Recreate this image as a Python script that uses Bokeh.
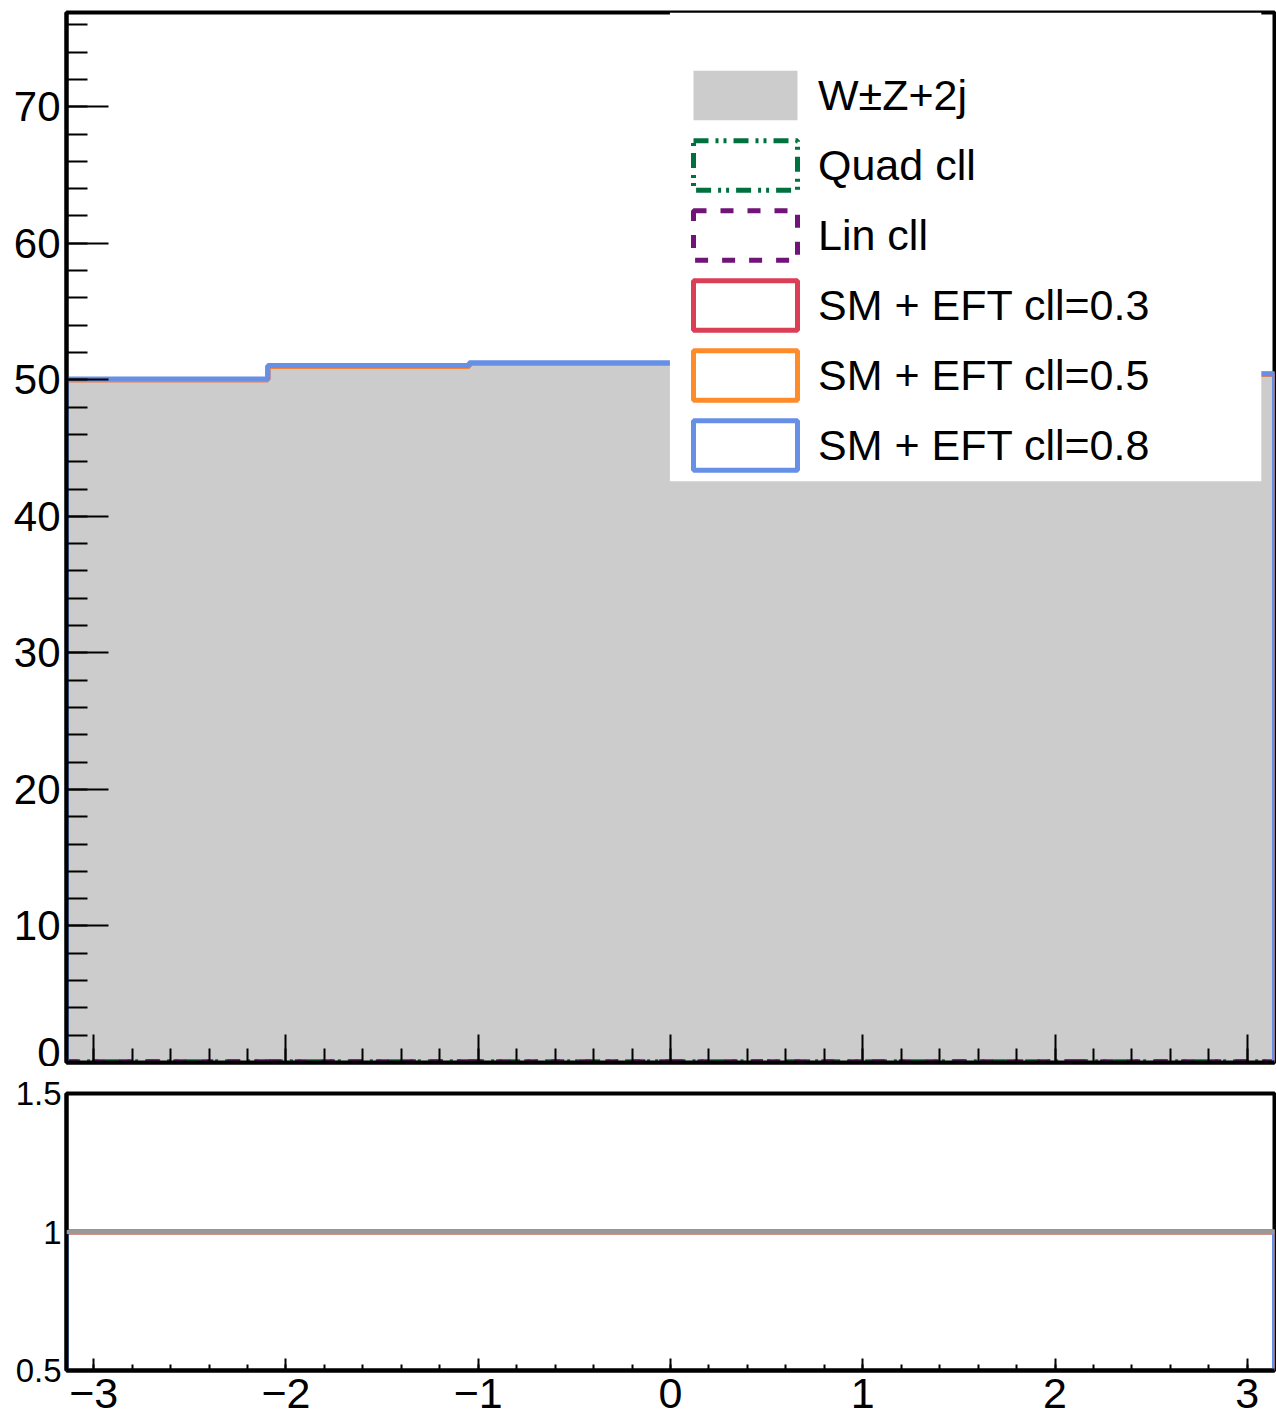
import numpy as np
from bokeh.plotting import figure
from bokeh.layouts import column
from bokeh.models import (Range1d, SingleIntervalTicker, FixedTicker, Legend, LegendItem,
                          BoxAnnotation, Span, CustomLabelingPolicy)
from bokeh.embed import file_html
from bokeh.resources import INLINE

# ---- data ----
bin_edges = [-3.1416, -2.0944, -1.0472, 0.0, 1.0472, 2.0944, 3.1416]
sm_wz2j = [50.0, 51.0, 51.2, 51.2, 51.0, 50.4]
quad_cll = [0.10, 0.10, 0.10, 0.10, 0.10, 0.10]
lin_cll = [0.09, 0.09, 0.09, 0.09, 0.09, 0.09]
sm_eft_03 = [50.0, 51.0, 51.2, 51.2, 51.0, 50.4]
sm_eft_05 = [50.0, 51.0, 51.2, 51.2, 51.0, 50.4]
sm_eft_08 = [50.05, 51.05, 51.25, 51.25, 51.05, 50.45]

legend_labels = ["W±Z+2j", "Quad cll", "Lin cll", "SM + EFT cll=0.3",
                 "SM + EFT cll=0.5", "SM + EFT cll=0.8"]
x_tick_labels = {-3: "\u22123", -2: "\u22122", -1: "\u22121", 0: "0", 1: "1", 2: "2", 3: "3"}
ratio_tick_labels = {0.5: "0.5", 1: "1", 1.5: "1.5"}

FONT = "Liberation Sans"
C_GRAY = "#cccccc"
C_GREEN = "#00703f"
C_PURPLE = "#701478"
C_RED = "#dc3f55"
C_ORANGE = "#ff8c28"
C_BLUE = "#6690e6"
DASH_QUAD = "15 7 3 5 3 7"
DASH_LIN = "13 14"


def outline(vals, base):
    xs = [bin_edges[0]]
    ys = [base]
    for i, v in enumerate(vals):
        xs += [bin_edges[i], bin_edges[i + 1]]
        ys += [v, v]
    xs.append(bin_edges[-1])
    ys.append(base)
    return xs, ys


def style_axes(p):
    for ax in (p.xaxis + p.yaxis):
        ax.axis_line_width = 4
        ax.axis_line_color = "black"
        ax.major_tick_line_width = 2
        ax.minor_tick_line_width = 2
        ax.major_tick_line_color = "black"
        ax.minor_tick_line_color = "black"
        ax.major_tick_out = 0
        ax.minor_tick_out = 0


x_range = Range1d(bin_edges[0], bin_edges[-1])

# ---------------- top panel ----------------
p1 = figure(width=1276, height=1066, x_range=x_range, y_range=Range1d(0, 76.9),
            output_backend="svg", toolbar_location=None,
            min_border_left=66, min_border_right=2, min_border_top=12, min_border_bottom=4)
p1.grid.visible = False
p1.outline_line_color = "black"
p1.outline_line_width = 4
p1.background_fill_color = "white"
p1.border_fill_color = "white"

xs_sm, ys_sm = outline(sm_wz2j, 0)
sm_r = p1.patch(xs_sm, ys_sm, fill_color=C_GRAY, line_alpha=0)

xq, yq = outline(quad_cll, 0)
p1.line(xq, yq, line_color=C_GREEN, line_width=4, line_dash=DASH_QUAD)
xl, yl = outline(lin_cll, 0)
p1.line(xl, yl, line_color=C_PURPLE, line_width=4, line_dash=DASH_LIN)
for vals, col in [(sm_eft_03, C_RED), (sm_eft_05, C_ORANGE), (sm_eft_08, C_BLUE)]:
    xs, ys = outline(vals, 0)
    p1.line(xs, ys, line_color=col, line_width=5)


# legend proxies (drawn as outlined boxes like ROOT); NaN data -> nothing in the plot
def proxy(color, dash):
    return p1.quad(left=[np.nan], right=[np.nan], top=[np.nan], bottom=[np.nan],
                   fill_alpha=0, line_color=color, line_width=5, line_dash=dash)


r_quad = proxy(C_GREEN, DASH_QUAD)
r_lin = proxy(C_PURPLE, DASH_LIN)
r_03 = proxy(C_RED, "solid")
r_05 = proxy(C_ORANGE, "solid")
r_08 = proxy(C_BLUE, "solid")

for ax in p1.yaxis:
    ax.ticker = SingleIntervalTicker(interval=10, num_minor_ticks=5)
for ax in p1.xaxis:
    ax.ticker = SingleIntervalTicker(interval=1, num_minor_ticks=5)

style_axes(p1)
p1.yaxis.major_tick_in = 42
p1.yaxis.minor_tick_in = 21
p1.yaxis.major_label_text_font = FONT
p1.yaxis.major_label_text_font_size = "42px"
p1.yaxis.major_label_text_color = "black"
p1.yaxis.major_label_standoff = 6

p1.xaxis.major_tick_in = 28
p1.xaxis.minor_tick_in = 14
p1.xaxis.major_label_standoff = 0
p1.xaxis.major_label_text_font_size = "1px"
p1.xaxis.major_label_policy = CustomLabelingPolicy(
    code="for (const i of indices) indices.unset(i)")

legend_bg = BoxAnnotation(left=-0.003, right=3.073, bottom=42.57, top=None,
                          fill_color="white", fill_alpha=1.0, line_alpha=0)
p1.add_layout(legend_bg)

items = [LegendItem(label=legend_labels[0], renderers=[sm_r]),
         LegendItem(label=legend_labels[1], renderers=[r_quad]),
         LegendItem(label=legend_labels[2], renderers=[r_lin]),
         LegendItem(label=legend_labels[3], renderers=[r_03]),
         LegendItem(label=legend_labels[4], renderers=[r_05]),
         LegendItem(label=legend_labels[5], renderers=[r_08])]
legend = Legend(items=items, location=(614, 586), margin=0, padding=0,
                glyph_width=130, glyph_height=62, label_height=50, spacing=8,
                label_standoff=8, label_text_font=FONT, label_text_font_size="43px",
                label_text_color="black", background_fill_alpha=0, border_line_alpha=0)
p1.add_layout(legend)

# ---------------- ratio panel ----------------
p2 = figure(width=1276, height=350, x_range=x_range, y_range=Range1d(0.5, 1.5),
            output_backend="svg", toolbar_location=None,
            min_border_left=66, min_border_right=2, min_border_top=27, min_border_bottom=46)
p2.grid.visible = False
p2.outline_line_color = "black"
p2.outline_line_width = 4
p2.background_fill_color = "white"
p2.border_fill_color = "white"

sm_arr = np.array(sm_wz2j)
for vals, col in [(sm_eft_03, C_RED), (sm_eft_05, C_ORANGE), (sm_eft_08, C_BLUE)]:
    ratio = list(np.array(vals) / sm_arr)
    xs, ys = outline(ratio, 0)
    p2.line(xs, ys, line_color=col, line_width=5)

p2.add_layout(Span(location=1, dimension="width", line_color="#999999", line_width=4))

for ax in p2.yaxis:
    ax.ticker = FixedTicker(ticks=[0.5, 1, 1.5])
for ax in p2.xaxis:
    ax.ticker = SingleIntervalTicker(interval=1, num_minor_ticks=5)

style_axes(p2)
p2.yaxis.major_tick_in = 0
p2.yaxis.minor_tick_in = 0
p2.yaxis.major_label_overrides = ratio_tick_labels
p2.yaxis.major_label_text_font = FONT
p2.yaxis.major_label_text_font_size = "33px"
p2.yaxis.major_label_text_color = "black"
p2.yaxis.major_label_standoff = 5

p2.xaxis.major_tick_in = 12
p2.xaxis.minor_tick_in = 6
p2.xaxis.major_label_overrides = x_tick_labels
p2.xaxis.major_label_text_font = FONT
p2.xaxis.major_label_text_font_size = "43px"
p2.xaxis.major_label_text_line_height = 0.7
p2.xaxis.major_label_text_color = "black"
p2.xaxis.major_label_standoff = 8

layout = column(p1, p2, spacing=0)
open("out.html", "w").write(file_html(layout, INLINE))
